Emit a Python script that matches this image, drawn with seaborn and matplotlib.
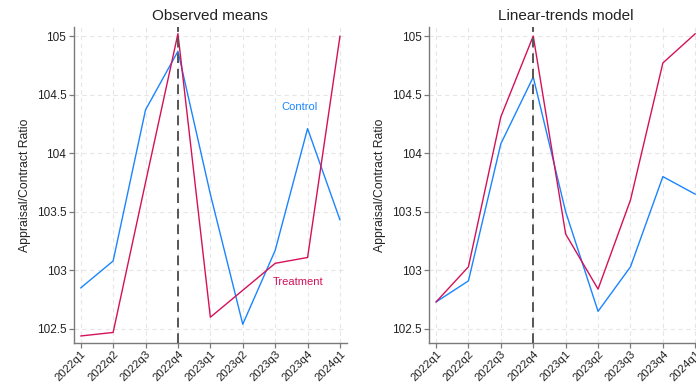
import matplotlib
matplotlib.use("Agg")
import matplotlib.pyplot as plt
import seaborn as sns
import pandas as pd

quarters = ["2022q1", "2022q2", "2022q3", "2022q4", "2023q1",
            "2023q2", "2023q3", "2023q4", "2024q1"]
obs_control = [102.85, 103.08, 104.37, 104.87, 103.65, 102.54, 103.17, 104.21, 103.43]
obs_treatment = [102.44, 102.47, 103.75, 105.02, 102.60, 102.83, 103.06, 103.11, 105.00]
lin_control = [102.73, 102.91, 104.08, 104.65, 103.50, 102.65, 103.03, 103.80, 103.65]
lin_treatment = [102.73, 103.03, 104.31, 105.00, 103.31, 102.84, 103.60, 104.77, 105.02]
y_ticks = [102.5, 103, 103.5, 104, 104.5, 105]
y_tick_labels = ["102.5", "103", "103.5", "104", "104.5", "105"]
event_quarter = "2022q4"

sns.set_style("white")
plt.rcParams["font.family"] = ["Liberation Sans", "DejaVu Sans"]

BLUE = "#1a85ff"
RED = "#d41159"
palette = {"Control": BLUE, "Treatment": RED}


def long_frame(control, treatment):
    n = len(quarters)
    return pd.DataFrame({
        "pos": list(range(n)) * 2,
        "value": list(control) + list(treatment),
        "group": ["Control"] * n + ["Treatment"] * n,
    })


W, H = 696, 383
fig = plt.figure(figsize=(W / 100, H / 100), dpi=100)
ax_w, ax_h = 272.7, 316
bottom_px = 40
ax1 = fig.add_axes([74 / W, bottom_px / H, ax_w / W, ax_h / H])
ax2 = fig.add_axes([429.3 / W, bottom_px / H, ax_w / W, ax_h / H])

panels = [
    (ax1, "Observed means", long_frame(obs_control, obs_treatment)),
    (ax2, "Linear-trends model", long_frame(lin_control, lin_treatment)),
]

for ax, title, df in panels:
    ax.set_xlim(-0.207, 8.207)
    ax.set_ylim(102.38, 105.077)
    ax.set_xticks(range(len(quarters)))
    ax.set_yticks(y_ticks)
    ax.grid(True, color="#e6e6e6", linestyle=(0, (4, 3)), linewidth=0.8)
    ax.set_axisbelow(True)
    sns.lineplot(data=df, x="pos", y="value", hue="group", palette=palette,
                 linewidth=1.0, legend=False, ax=ax, zorder=3)
    ax.axvline(quarters.index(event_quarter), color="#555555", linewidth=1.4,
               linestyle=(0, (5, 3)), zorder=4)
    ax.set_xticklabels(quarters, rotation=45, ha="right", rotation_mode="anchor",
                       fontsize=8.2, color="#222222")
    ax.set_yticklabels(y_tick_labels, fontsize=8.5, color="#222222")
    ax.set_xlabel("")
    ax.set_ylabel("Appraisal/Contract Ratio", fontsize=8.8, color="#222222",
                  labelpad=4)
    ax.set_title(title, fontsize=11, color="#222222", pad=5)
    for side in ("top", "right"):
        ax.spines[side].set_visible(False)
    for side in ("left", "bottom"):
        ax.spines[side].set_color("#7a7a7a")
        ax.spines[side].set_linewidth(1.0)
    ax.tick_params(axis="both", direction="out", length=3.5, width=0.9,
                   color="#7a7a7a", pad=2, bottom=True, left=True)
    ax.tick_params(axis="x", pad=1)

ax1.text(6.74, 104.39, "Control", color=BLUE, fontsize=8, ha="center", va="center")
ax1.text(6.70, 102.90, "Treatment", color=RED, fontsize=8, ha="center", va="center")

fig.savefig("out.png", dpi=100)
